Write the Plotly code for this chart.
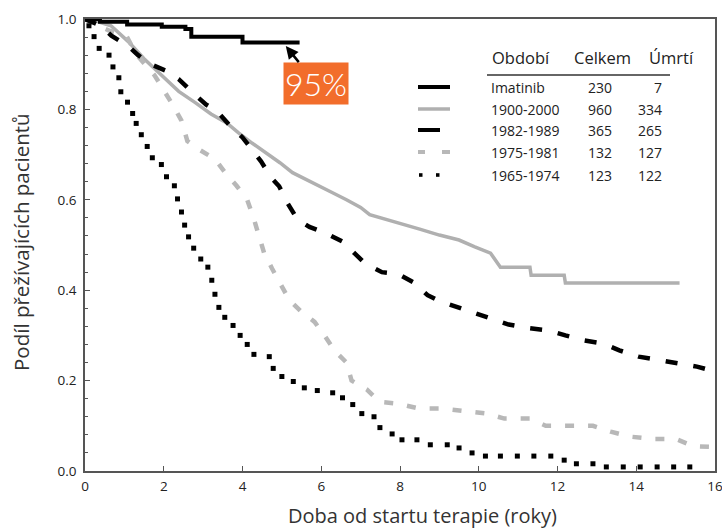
import plotly.graph_objects as go

# ---- data ----
imatinib_x = [0, 0.38, 1.07, 1.95, 2.55, 2.7, 4.0, 5.45]
imatinib_y = [1.0, 0.994, 0.988, 0.983, 0.978, 0.961, 0.948, 0.948]

p1900_x = [0, 0.3, 0.66, 1.1, 1.5, 1.95, 2.38, 2.8, 3.2, 3.6, 3.9, 4.25, 4.6, 4.95, 5.27, 5.6,
           5.95, 6.3, 6.64, 7.0, 7.23, 7.6, 8.0, 8.5, 9.0, 9.5, 9.9, 10.3, 10.55, 11.3, 11.33,
           12.17, 12.2, 15.1]
p1900_y = [1.0, 0.995, 0.985, 0.95, 0.912, 0.874, 0.84, 0.815, 0.79, 0.77, 0.748, 0.725, 0.704, 0.682,
           0.66, 0.645, 0.63, 0.615, 0.6, 0.583, 0.567, 0.558, 0.548, 0.535, 0.522, 0.511, 0.496,
           0.482, 0.451, 0.451, 0.433, 0.433, 0.416, 0.416]

p1982_x = [0, 0.4, 0.67, 1.1, 1.35, 1.66, 2.1, 2.38, 2.7, 3.07, 3.35, 3.65, 4.0, 4.2, 4.47, 4.73,
           4.93, 5.14, 5.4, 5.7, 6.1, 6.55, 6.8, 7.1, 7.54, 7.95, 8.33, 8.7, 9.0, 9.48, 9.97, 10.3,
           10.76, 11.27, 11.76, 12.2, 12.68, 13.16, 13.57, 14.06, 14.47, 14.98, 15.54, 15.92]
p1982_y = [1.0, 0.985, 0.963, 0.94, 0.92, 0.9, 0.884, 0.867, 0.84, 0.811, 0.796, 0.767, 0.738,
           0.716, 0.685, 0.649, 0.63, 0.593, 0.556, 0.54, 0.527, 0.507, 0.484, 0.46, 0.44, 0.436,
           0.418, 0.389, 0.376, 0.362, 0.349, 0.338, 0.324, 0.316, 0.311, 0.3, 0.289, 0.282,
           0.267, 0.253, 0.247, 0.238, 0.231, 0.222]

p1975_x = [0, 0.2, 0.6, 1.05, 1.3, 1.77, 2.25, 2.45, 2.6, 2.9, 3.3, 3.56, 3.85, 4.12, 4.27, 4.42,
           4.55, 4.75, 4.98, 5.19, 5.5, 5.83, 6.08, 6.34, 6.64, 6.77, 7.16, 7.48, 7.95, 8.5, 9.1,
           9.6, 10.2, 10.65, 11.3, 11.7, 12.3, 12.9, 13.35, 13.85, 14.4, 15.0, 15.45, 16.0]
p1975_y = [1.0, 0.99, 0.975, 0.963, 0.922, 0.875, 0.807, 0.775, 0.73, 0.711, 0.69, 0.66, 0.631,
           0.6, 0.563, 0.522, 0.482, 0.448, 0.412, 0.378, 0.352, 0.33, 0.3, 0.266, 0.24, 0.2,
           0.18, 0.153, 0.149, 0.138, 0.138, 0.133, 0.127, 0.116, 0.116, 0.1, 0.1, 0.1, 0.087,
           0.076, 0.071, 0.071, 0.055, 0.053]

p1965_x = [0.0, 0.1, 0.23, 0.36, 0.61, 0.71, 0.86, 0.91, 1.08, 1.21, 1.3, 1.43, 1.58, 1.71, 1.94,
           2.07, 2.27, 2.35, 2.45, 2.53, 2.63, 2.76, 2.94, 3.12, 3.22, 3.3, 3.4, 3.55, 3.76, 3.94,
           4.12, 4.29, 4.68, 4.78, 5.0, 5.29, 5.57, 5.9, 6.29, 6.54, 6.8, 7.03, 7.34, 7.49, 7.8,
           8.05, 8.43, 8.77, 9.2, 9.5, 9.83, 10.17, 10.55, 10.98, 11.4, 11.83, 12.17, 12.48, 12.9,
           13.24, 13.67, 14.1, 14.53, 14.95, 15.36]
p1965_y = [1.0, 0.985, 0.961, 0.935, 0.92, 0.894, 0.87, 0.839, 0.816, 0.791, 0.769, 0.744, 0.718,
           0.693, 0.678, 0.651, 0.631, 0.602, 0.573, 0.544, 0.518, 0.493, 0.469, 0.451, 0.422,
           0.391, 0.362, 0.34, 0.322, 0.3, 0.28, 0.258, 0.253, 0.227, 0.209, 0.198, 0.184, 0.178,
           0.173, 0.162, 0.147, 0.127, 0.12, 0.096, 0.082, 0.069, 0.069, 0.058, 0.058, 0.051, 0.04,
           0.033, 0.033, 0.033, 0.033, 0.033, 0.024, 0.016, 0.016, 0.009, 0.009, 0.009, 0.009,
           0.009, 0.009]

legend_periods = ["Imatinib", "1900-2000", "1982-1989", "1975-1981", "1965-1974"]
legend_total = ["230", "960", "365", "132", "123"]
legend_deaths = ["7", "334", "265", "127", "122"]
header = ["Období", "Celkem", "Úmrtí"]

x_ticks = [0, 2, 4, 6, 8, 10, 12, 14, 16]
y_ticks = [0.0, 0.2, 0.4, 0.6, 0.8, 1.0]

x_title = "Doba od startu terapie (roky)"
y_title = "Podíl přežívajících pacientů"
label_95 = "95%"
imatinib_end = (5.1, 0.94)

FONT = "Open Sans"
BLACK = "#000000"
GRAY = "#B0B0B0"
LGRAY = "#B8B8B8"

fig = go.Figure()
fig.add_trace(go.Scatter(x=p1900_x, y=p1900_y, mode="lines", line=dict(color=GRAY, width=3.5)))
fig.add_trace(go.Scatter(x=p1975_x, y=p1975_y, mode="lines", line=dict(color=LGRAY, width=4.5, dash="9px,14px")))
fig.add_trace(go.Scatter(x=p1982_x, y=p1982_y, mode="lines", line=dict(color=BLACK, width=4.5, dash="12px,16px")))
fig.add_trace(go.Scatter(x=p1965_x, y=p1965_y, mode="markers", marker=dict(color=BLACK, size=5, symbol="square")))
fig.add_trace(go.Scatter(x=imatinib_x, y=imatinib_y, mode="lines", line=dict(color=BLACK, width=4, shape="hv")))

W, H = 722, 528
# plot area in pixels: x 85..715, y 19..471
L, R, T, B = 85, 715, 19, 471
def px(x):
    return (x - L) / (R - L)
def py(y):
    return (B - y) / (B - T)

shapes = []
sy = [87, 109, 130, 152, 175]
shapes.append(dict(type="line", xref="paper", yref="paper", x0=px(418), x1=px(450), y0=py(sy[0]), y1=py(sy[0]),
                   line=dict(color=BLACK, width=4)))
shapes.append(dict(type="line", xref="paper", yref="paper", x0=px(418), x1=px(450), y0=py(sy[1]), y1=py(sy[1]),
                   line=dict(color=GRAY, width=3.5)))
shapes.append(dict(type="line", xref="paper", yref="paper", x0=px(418), x1=px(440), y0=py(sy[2]), y1=py(sy[2]),
                   line=dict(color=BLACK, width=4)))
for a, b in [(418, 425), (442, 450)]:
    shapes.append(dict(type="line", xref="paper", yref="paper", x0=px(a), x1=px(b), y0=py(sy[3]), y1=py(sy[3]),
                       line=dict(color=LGRAY, width=4)))
for a in [419, 436]:
    shapes.append(dict(type="rect", xref="paper", yref="paper", x0=px(a), x1=px(a + 3.5),
                       y0=py(sy[4] + 1.8), y1=py(sy[4] - 1.8), line=dict(width=0), fillcolor=BLACK))
shapes.append(dict(type="line", xref="paper", yref="paper", x0=px(487), x1=px(670), y0=py(75), y1=py(75),
                   line=dict(color="#333333", width=1.3)))

ann = []
for txt, xl in zip(header, [490, 572, 647]):
    ann.append(dict(xref="paper", yref="paper", x=px(xl), y=py(57), text=txt, showarrow=False,
                    xanchor="left", yanchor="middle", font=dict(family=FONT, size=16.5, color="#222222")))
for i in range(len(legend_periods)):
    ann.append(dict(xref="paper", yref="paper", x=px(489), y=py(sy[i] + 0.5), text=legend_periods[i], showarrow=False,
                    xanchor="left", yanchor="middle", font=dict(family=FONT, size=14, color="#222222")))
    ann.append(dict(xref="paper", yref="paper", x=px(614), y=py(sy[i] + 0.5), text=legend_total[i], showarrow=False,
                    xanchor="right", yanchor="middle", font=dict(family=FONT, size=14, color="#222222")))
    ann.append(dict(xref="paper", yref="paper", x=px(664), y=py(sy[i] + 0.5), text=legend_deaths[i], showarrow=False,
                    xanchor="right", yanchor="middle", font=dict(family=FONT, size=14, color="#222222")))

ann.append(dict(xref="paper", yref="paper", x=px(422), y=py(515), text=x_title, showarrow=False,
                xanchor="center", yanchor="middle", font=dict(family=FONT, size=20, color="#333333")))
ann.append(dict(xref="paper", yref="paper", x=px(21), y=py(242), text=y_title, showarrow=False, textangle=-90,
                xanchor="center", yanchor="middle", font=dict(family=FONT, size=20.5, color="#333333")))

ann.append(dict(x=imatinib_end[0], y=imatinib_end[1], xref="x", yref="y", text=label_95, showarrow=True,
                ax=30, ay=37, arrowhead=2, arrowsize=1, arrowwidth=2.5, arrowcolor=BLACK,
                bgcolor="#F26D2B", borderpad=1, font=dict(family="Lato", size=32, color="white", weight=300)))

fig.update_layout(
    width=W, height=H,
    margin=dict(l=L, r=W - R, t=T, b=H - B, autoexpand=False),
    paper_bgcolor="white", plot_bgcolor="white",
    showlegend=False,
    shapes=shapes, annotations=ann,
    font=dict(family=FONT, color="#333333"),
)
fig.update_xaxes(range=[0, 16], tickvals=x_ticks, ticktext=[str(v) for v in x_ticks], automargin=False,
                 ticklabeloverflow="allow",
                 showgrid=False, zeroline=False, showline=True, mirror=True, linecolor="#555555", linewidth=1.5,
                 ticks="inside", ticklen=5, tickcolor="#555555", ticklabelstandoff=2,
                 tickfont=dict(family=FONT, size=13.5, color="#222222"))
fig.update_yaxes(range=[0, 1], tickvals=y_ticks, ticktext=[f"{v:.1f}" for v in y_ticks], automargin=False,
                 ticklabeloverflow="allow",
                 showgrid=False, zeroline=False, showline=True, mirror=True, linecolor="#555555", linewidth=1.5,
                 ticks="inside", ticklen=5, tickcolor="#555555", ticklabelstandoff=4,
                 tickfont=dict(family=FONT, size=13.5, color="#222222"),
                 minor=dict(tick0=0, dtick=0.04, ticks="inside", ticklen=3, tickcolor="#555555"))

# remove the browser's default 8px body margin so the 722x528 figure fills the window exactly
fig.write_html("out.html", config={"displayModeBar": False},
               post_script="document.body.style.margin='0';document.body.style.overflow='hidden';")
